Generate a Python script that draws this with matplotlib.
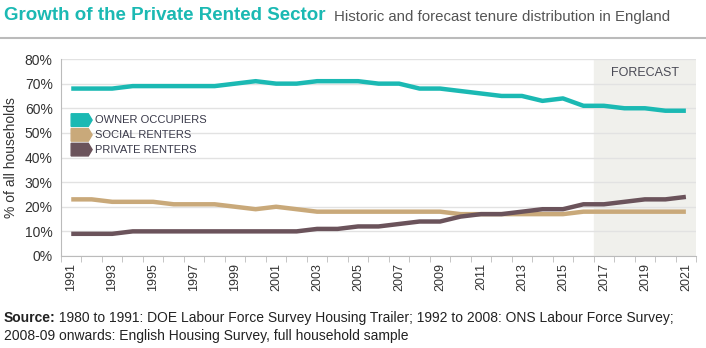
import numpy as np
import matplotlib.pyplot as plt
from matplotlib.patches import Polygon
from matplotlib.lines import Line2D
from matplotlib.transforms import offset_copy

plt.rcParams['font.family'] = ['Liberation Sans', 'DejaVu Sans']

years = np.arange(1991, 2022)
owner = [68, 68, 68, 69, 69, 69, 69, 69, 70, 71, 70, 70, 71, 71, 71, 70,
         70, 68, 68, 67, 66, 65, 65, 63, 64, 61, 61, 60, 60, 59, 59]
social = [23, 23, 22, 22, 22, 21, 21, 21, 20, 19, 20, 19, 18, 18, 18, 18,
          18, 18, 18, 17, 17, 17, 17, 17, 17, 18, 18, 18, 18, 18, 18]
private = [9, 9, 9, 10, 10, 10, 10, 10, 10, 10, 10, 10, 11, 11, 12, 12,
           13, 14, 14, 16, 17, 17, 18, 19, 19, 21, 21, 22, 23, 23, 24]
labels = ['OWNER OCCUPIERS', 'SOCIAL RENTERS', 'PRIVATE RENTERS']
colors = ['#1BB9B3', '#C9A97A', '#6B535B']
forecast_start = 2016.5

fig = plt.figure(figsize=(7.06, 3.48), dpi=100)
ax = fig.add_axes([0.0864, 0.2644, 0.8996, 0.566])

ax.axvspan(forecast_start, 2021.5, color='#F0F0EC', zorder=0)
for vals, c in zip([owner, social, private], colors):
    ax.plot(years, vals, color=c, lw=3.2, solid_capstyle='butt', zorder=3)

ax.set_xlim(1990.5, 2021.5)
ax.set_ylim(0, 80)
ax.set_yticks(range(0, 81, 10))
ax.set_yticklabels([f'{v}%' for v in range(0, 81, 10)], fontsize=10, color='#333333')
ax.yaxis.grid(True, color='#E2E2E2', lw=1)
ax.set_axisbelow(True)
ax.tick_params(axis='y', length=0, pad=6)

ax.set_xticks(years[::2])
ax.set_xticklabels([str(y) for y in years[::2]], rotation=90, fontsize=9, color='#333333')
ax.set_xticks(np.arange(1990.5, 2022, 1), minor=True)
ax.tick_params(axis='x', which='major', length=0, pad=5)
ax.tick_params(axis='x', which='minor', length=4, color='#BBBBBB')

for s in ['top', 'right']:
    ax.spines[s].set_visible(False)
for s in ['left', 'bottom']:
    ax.spines[s].set_color('#BBBBBB')

ax.set_ylabel('% of all households', fontsize=10, color='#333333', labelpad=5)

ax.text(2019.0, 74.5, 'FORECAST', fontsize=9, color='#4A4A55', ha='center', va='center')

# legend with arrow-shaped swatches
for i, (lab, c) in enumerate(zip(labels, colors)):
    y0 = 0.69 - i * 0.075
    x0, w, h = 0.016, 0.027, 0.032
    pts = [(x0, y0 - h), (x0 + w, y0 - h), (x0 + w + 0.006, y0),
           (x0 + w, y0 + h), (x0, y0 + h)]
    ax.add_patch(Polygon(pts, closed=True, color=c, transform=ax.transAxes,
                         clip_on=False, zorder=4))
    ax.text(x0 + w + 0.011, y0, lab, transform=ax.transAxes, fontsize=8,
            color='#3A3A4A', va='center', ha='left')

fig.text(0.005, 0.955, 'Growth of the Private Rented Sector', fontsize=13.5,
         fontweight='bold', color='#1BB9B3', va='center')
fig.text(0.473, 0.952, 'Historic and forecast tenure distribution in England',
         fontsize=10.8, color='#555555', va='center')
fig.add_artist(Line2D([0, 1], [0.89, 0.89], color='#BBBBBB', lw=1.5,
                      transform=fig.transFigure))

src = fig.text(0.005, 0.085, 'Source:', fontsize=10, fontweight='bold',
               color='#222222', va='center')
fig.canvas.draw()
wpx = src.get_window_extent().width
fig.text(0.005, 0.085, ' 1980 to 1991: DOE Labour Force Survey Housing Trailer; '
         '1992 to 2008: ONS Labour Force Survey;', fontsize=10, color='#222222', va='center',
         transform=offset_copy(fig.transFigure, fig=fig, x=wpx, y=0, units='dots'))
fig.text(0.005, 0.035, '2008-09 onwards: English Housing Survey, full household sample',
         fontsize=10, color='#222222', va='center')

fig.savefig('out.png', dpi=100)
